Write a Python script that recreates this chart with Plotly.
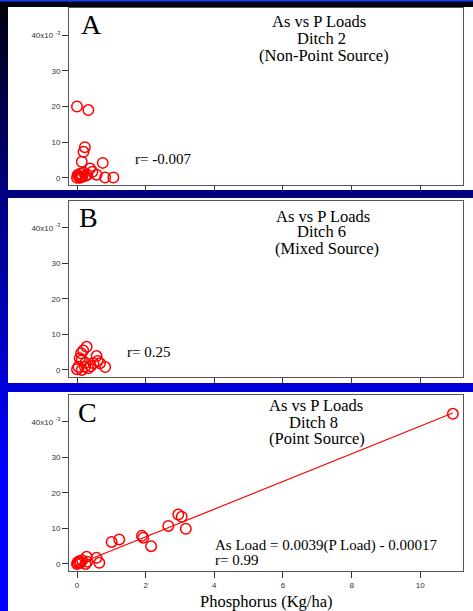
import numpy as np
import plotly.graph_objects as go

W, H = 473, 611

# ---------------- data (P load in kg/ha, As load in kg/ha) ----------------
p_ditch2 = [0.0, 0.33, 0.23, 0.19, 0.14, 0.75, 0.38, 0.45, 0.57, 0.82, 1.06,
            0.0, 0.05, 0.10, 0.15, 0.20, 0.08, 0.02, 0.12, 0.30, 0.25]
as_ditch2 = [0.0200, 0.0190, 0.0086, 0.0073, 0.0045, 0.0042, 0.0026, 0.0017, 0.0009, 0.0001, 0.0001,
             0.0000, 0.0005, 0.0012, 0.0003, 0.0015, 0.0000, 0.0008, 0.0002, 0.0009, 0.0006]

p_ditch6 = [0.28, 0.18, 0.12, 0.57, 0.08, 0.14, 0.48, 0.67, 0.82, 0.04, 0.23,
            0.33, 0.00, 0.14, 0.40, 0.60, 0.25]
as_ditch6 = [0.0065, 0.0055, 0.0047, 0.0039, 0.0033, 0.0028, 0.0019, 0.0019, 0.0008, 0.0009, 0.0009,
             0.00045, 0.0002, 0.0000, 0.0010, 0.0025, 0.0020]

p_ditch8 = [0.00, 0.02, 0.05, 0.08, 0.10, 0.15, 0.25, 0.28, 0.30, 0.57, 0.65,
            1.01, 1.23, 1.89, 1.93, 2.16, 2.66, 2.95, 3.05, 3.17, 10.95]
as_ditch8 = [0.0000, 0.0005, 0.0002, 0.0008, 0.0003, 0.0010, 0.0000, 0.0020, 0.0006, 0.0017, 0.0003,
             0.0062, 0.0069, 0.0079, 0.0074, 0.0050, 0.0107, 0.0139, 0.0133, 0.0099, 0.0423]

# regression for Ditch 8: As Load = 0.0039(P Load) - 0.00017
slope_d8 = 0.0039
intercept_d8 = -0.00017

panel_letters = ["A", "B", "C"]
panel_titles = [["As vs P Loads", "Ditch 2", "(Non-Point Source)"],
                ["As vs P Loads", "Ditch 6", "(Mixed Source)"],
                ["As vs P Loads", "Ditch 8", "(Point Source)"]]
r_texts = ["r= -0.007", "r= 0.25"]
eq_text = ["As Load = 0.0039(P Load) - 0.00017", "r= 0.99"]

y_tickvals = [0, 0.01, 0.02, 0.03, 0.04]
y_ticktext = ["0", "10", "20", "30", "40x10 <sup>-3</sup>"]
x_tickvals = [0, 2, 4, 6, 8, 10]
x_title = "Phosphorus (Kg/ha)"

# ---------------- layout helpers ----------------
def px(x, y):
    return x / W, 1 - y / H

SERIF = "Liberation Serif, Times New Roman, serif"
SANS = "Liberation Sans, Arial, sans-serif"
RED = "#ff0000"

# panel plot-area boxes in pixels (top, bottom)
panels = [(8, 185), (201, 377), (395, 571)]
x_left, x_right = 69, 463

fig = go.Figure()

marker = dict(symbol="circle-open", size=10.5, color=RED, line=dict(width=1.5, color=RED))
series = [(p_ditch2, as_ditch2), (p_ditch6, as_ditch6), (p_ditch8, as_ditch8)]
for i, (xs, ys) in enumerate(series):
    sfx = "" if i == 0 else str(i + 1)
    fig.add_trace(go.Scatter(x=xs, y=ys, mode="markers", marker=marker,
                             xaxis="x" + sfx, yaxis="y" + sfx, showlegend=False,
                             hoverinfo="x+y"))

xl = np.array([min(p_ditch8), max(p_ditch8)])
fig.add_trace(go.Scatter(x=xl, y=slope_d8 * xl + intercept_d8, mode="lines",
                         line=dict(color=RED, width=1.2), xaxis="x3", yaxis="y3",
                         showlegend=False, hoverinfo="skip"))

layout = dict(width=W, height=H, margin=dict(l=0, r=0, t=0, b=0),
              paper_bgcolor="#0000c0", plot_bgcolor="white", showlegend=False)

for i, (top, bot) in enumerate(panels):
    sfx = "" if i == 0 else str(i + 1)
    ax_x = dict(domain=[x_left / W, x_right / W], range=[-0.233, 11.245],
                tickvals=x_tickvals, ticks="outside", ticklen=6, tickwidth=1, tickcolor="#333",
                showline=True, mirror=True, linecolor="#555", linewidth=1,
                showgrid=False, zeroline=False, showticklabels=(i == 2),
                tickfont=dict(family=SANS, size=8, color="#333"),
                anchor="y" + sfx)
    ax_y = dict(domain=[1 - bot / H, 1 - top / H], range=[-0.0020, 0.0476],
                tickvals=y_tickvals, ticktext=y_ticktext, ticks="outside", ticklen=6,
                tickwidth=1, tickcolor="#333",
                showline=True, mirror=True, linecolor="#555", linewidth=1,
                showgrid=False, zeroline=False,
                tickfont=dict(family=SANS, size=8, color="#333"),
                anchor="x" + sfx)
    layout["xaxis" + sfx] = ax_x
    layout["yaxis" + sfx] = ax_y

# background gradient (black at top to blue at bottom)
shapes = []
stops_y = [0, 190, 385, 470, 611]
stops_b = [10, 128, 216, 255, 255]
step = 4
for y0 in range(0, H, step):
    b = int(np.interp(y0 + step / 2, stops_y, stops_b))
    x0p, y0p = px(0, y0)
    x1p, y1p = px(W, min(H, y0 + step))
    shapes.append(dict(type="rect", xref="paper", yref="paper", x0=x0p, x1=x1p,
                       y0=y1p, y1=y0p, line=dict(width=0),
                       fillcolor=f"rgb(0,0,{b})", layer="below"))
# thin bright line at very top
shapes.append(dict(type="rect", xref="paper", yref="paper", x0=0, x1=1,
                   y0=1 - 1.5 / H, y1=1, line=dict(width=0),
                   fillcolor="#1040ff", layer="below"))
# white panel backgrounds
for (t, b) in [(7, 190), (198, 383), (392, 611)]:
    x0p, y0p = px(8, t)
    x1p, y1p = px(W, b)
    shapes.append(dict(type="rect", xref="paper", yref="paper", x0=x0p, x1=x1p,
                       y0=y1p, y1=y0p, line=dict(width=0), fillcolor="white", layer="below"))
layout["shapes"] = shapes

ann = []
def add_text(text, x, y, size, xanchor="center", family=SERIF):
    xp, yp = px(x, y)
    ann.append(dict(text=text, x=xp, y=yp, xref="paper", yref="paper",
                    xanchor=xanchor, yanchor="middle", showarrow=False,
                    font=dict(family=family, size=size, color="black")))

letter_pos = [(79, 25), (77, 217), (76, 412)]
for L, (x, y) in zip(panel_letters, letter_pos):
    add_text(L, x, y, 28, xanchor="left")

title_pos = [[(319, 21.5), (321, 38.5), (323.5, 55)],
             [(322.5, 216), (321, 232), (327, 249)],
             [(316.3, 405.5), (313.8, 422), (316.7, 438.5)]]
for lines, poss in zip(panel_titles, title_pos):
    for t, (x, y) in zip(lines, poss):
        add_text(t, x, y, 16.5)

add_text(r_texts[0], 133, 158.5, 15, xanchor="left")
add_text(r_texts[1], 125, 352, 15, xanchor="left")
add_text(eq_text[0], 213, 545, 15, xanchor="left")
add_text(eq_text[1], 213, 559.5, 15, xanchor="left")
add_text(x_title, 266, 601.5, 16.5)

layout["annotations"] = ann
fig.update_layout(**layout)
fig.write_html("out.html", config={"displayModeBar": False},
               post_script="document.body.style.margin='0';document.body.style.overflow='hidden';")
